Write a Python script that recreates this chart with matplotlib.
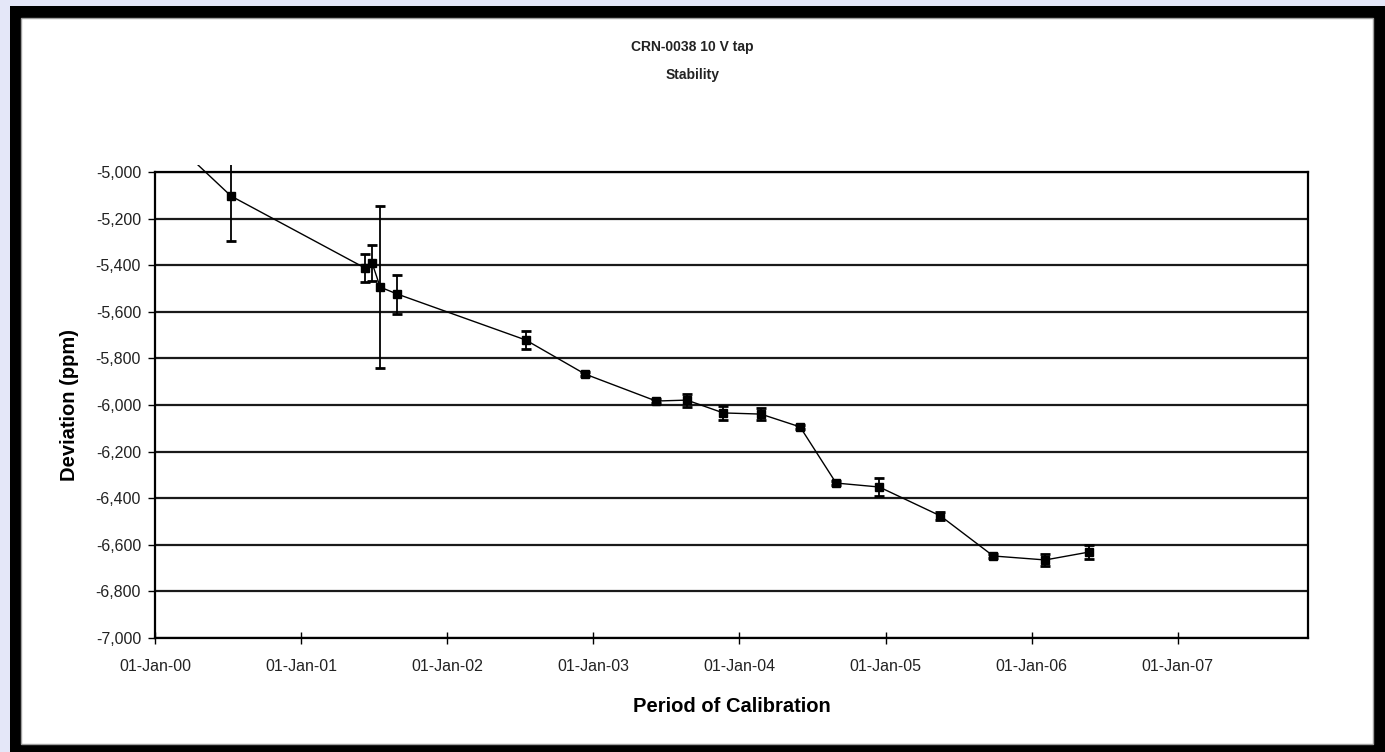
import datetime as dt
import matplotlib
matplotlib.use("Agg")
import matplotlib.pyplot as plt
import matplotlib.dates as mdates
from matplotlib.patches import Rectangle
from matplotlib.ticker import FuncFormatter

plt.rcParams['font.family'] = ['Liberation Sans', 'DejaVu Sans']

# calibration dates, deviation (ppm) and uncertainty (ppm)
cal_dates = [dt.datetime(1999, 10, 1), dt.datetime(2000, 7, 9), dt.datetime(2001, 6, 9),
             dt.datetime(2001, 6, 27), dt.datetime(2001, 7, 17), dt.datetime(2001, 8, 29),
             dt.datetime(2002, 7, 16), dt.datetime(2002, 12, 11), dt.datetime(2003, 6, 7),
             dt.datetime(2003, 8, 23), dt.datetime(2003, 11, 22), dt.datetime(2004, 2, 24),
             dt.datetime(2004, 6, 1), dt.datetime(2004, 8, 30), dt.datetime(2004, 12, 16),
             dt.datetime(2005, 5, 18), dt.datetime(2005, 9, 27), dt.datetime(2006, 2, 4),
             dt.datetime(2006, 5, 25)]
deviation = [-4648, -5103, -5412, -5391, -5494, -5524, -5721, -5867, -5983, -5979,
             -6034, -6039, -6094, -6335, -6352, -6476, -6648, -6665, -6631]
uncert = [0, 195, 62, 78, 348, 84, 39, 8, 8, 28, 30, 27, 10, 10, 40, 18, 8, 25, 32]

y_ticks = list(range(-7000, -4999, 200))

fig = plt.figure(figsize=(13.85, 7.52), dpi=100)
fig.patch.set_facecolor('#e4e7f8')

# black frame and white chart area
fig.patches.append(Rectangle((10 / 1385, 0), 1 - 10 / 1385, 746 / 752, transform=fig.transFigure,
                             facecolor='black', edgecolor='none', zorder=-3))
fig.patches.append(Rectangle((21 / 1385, 8 / 752), 1352 / 1385, 726 / 752, transform=fig.transFigure,
                             facecolor='white', edgecolor='#a0a0a0', lw=1, zorder=-2))

ax = fig.add_axes([155 / 1385, 114 / 752, 1153 / 1385, 466 / 752])
ax.set_facecolor('none')

# lines spill a few pixels over the top of the plot, as in the original
clip = Rectangle((0, 0), 1, 1.016, transform=ax.transAxes, facecolor='none', edgecolor='none')
ax.add_patch(clip)

for yt in y_ticks:
    ax.axhline(yt, color='#1a1a1a', lw=1.6, zorder=1)

line, = ax.plot(cal_dates, deviation, color='black', lw=1.0, zorder=3)
line.set_clip_path(clip)

eb = ax.errorbar(cal_dates, deviation, yerr=uncert, fmt='none', ecolor='black',
                 elinewidth=1.3, capsize=3.8, capthick=2.0, zorder=4)
for art in list(eb.lines[1]) + list(eb.lines[2]):
    art.set_clip_path(clip)

mk, = ax.plot(cal_dates, deviation, 's', color='black', markersize=5.5, zorder=5)
mk.set_clip_path(clip)

ax.set_ylim(-7000, -5000)
ax.set_xlim(dt.datetime(2000, 1, 1), dt.datetime(2007, 11, 23))
ax.set_yticks(y_ticks)
ax.yaxis.set_major_formatter(FuncFormatter(lambda v, p: '{:,.0f}'.format(v)))
ax.xaxis.set_major_locator(mdates.YearLocator())
ax.xaxis.set_major_formatter(mdates.DateFormatter('%d-%b-%y'))

for s in ax.spines.values():
    s.set_color('black')
    s.set_linewidth(1.6)

ax.tick_params(axis='y', direction='out', length=5, width=1, labelsize=11.5, pad=5, colors='black')
ax.tick_params(axis='x', direction='inout', length=8, width=1, labelsize=11.5, pad=11, colors='black')
for lab in ax.get_xticklabels() + ax.get_yticklabels():
    lab.set_color('#222222')

ax.set_ylabel('Deviation (ppm)', fontsize=14.5, fontweight='bold', labelpad=12)
ax.set_xlabel('Period of Calibration', fontsize=14.5, fontweight='bold', labelpad=17)

fig.text(0.5, 1 - 47 / 752, 'CRN-0038 10 V tap', ha='center', va='center', fontsize=10,
         fontweight='bold', color='#222222')
fig.text(0.5, 1 - 75 / 752, 'Stability', ha='center', va='center', fontsize=10,
         fontweight='bold', color='#222222')

fig.savefig('out.png', dpi=100, facecolor=fig.get_facecolor())
